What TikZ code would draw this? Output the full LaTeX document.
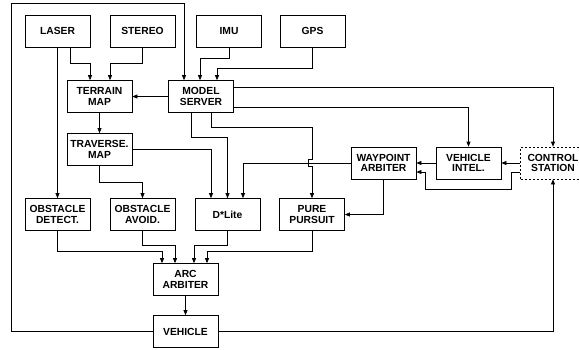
\documentclass[tikz,border=0pt]{standalone}
\usepackage{fontspec}
\setmainfont{Liberation Sans}
\usetikzlibrary{arrows.meta}

\begin{document}
\begin{tikzpicture}[
  x=1pt, y=-1pt,
  box/.style={rectangle, draw=black, line width=0.7pt, minimum width=65pt, minimum height=32pt,
    inner sep=1pt, align=center, font=\bfseries\fontsize{10.3}{10.5}\selectfont},
  remote/.style={box, dash pattern=on 2pt off 2pt},
  arr/.style={line width=0.7pt, draw=black, -{Triangle[length=5pt,width=4pt]}}
]
  \useasboundingbox (0,0) rectangle (579,349);

  % Sensores
  \node[box] (laser) at (57.5,31) {LASER};
  \node[box] (stereo) at (142.5,31) {STEREO};
  \node[box] (imu) at (229,31) {IMU};
  \node[box] (gps) at (312.5,31) {GPS};

  % Modelos y mapas
  \node[box] (terrain) at (99.5,96.5) {TERRAIN\\MAP};
  \node[box] (model) at (201,96.5) {MODEL\\SERVER};
  \node[box] (traverse) at (99.5,149.5) {TRAVERSE.\\MAP};
  \node[box] (waypoint) at (383.5,163) {WAYPOINT\\ARBITER};
  \node[box] (vintel) at (468.5,163) {VEHICLE\\INTEL.};
  \node[remote] (control) at (553,163) {CONTROL\\STATION};

  % Comportamientos
  \node[box] (obsdet) at (57.5,214.5) {OBSTACLE\\DETECT.};
  \node[box] (obsav) at (142.5,214.5) {OBSTACLE\\AVOID.};
  \node[box] (dlite) at (227.5,214.5) {D*Lite};
  \node[box] (pure) at (312,214.5) {PURE\\PURSUIT};
  \node[box] (arc) at (185.5,279.5) {ARC\\ARBITER};
  \node[box] (vehicle) at (185.5,331.5) {VEHICLE};

  % Sensores -> mapas
  \draw[arr] (laser.south) -- (obsdet.north);
  \draw[arr] ([xshift=12.5pt]laser.south) -- ++(0,16) -| ([xshift=-9.5pt]terrain.north);
  \draw[arr] (stereo.south) -- ++(0,16) -| ([xshift=10.5pt]terrain.north);
  \draw[arr] (imu.south) -- ++(0,11) -| ([xshift=-1pt]model.north);
  \draw[arr] (gps.south) -- ++(0,21) -| ([xshift=16pt]model.north);

  % Model server
  \draw[arr] (model.west) -- (terrain.east);
  \draw[arr] ([yshift=9.5pt]model.east) -| (control.north);
  \draw[arr] ([yshift=-10.5pt]model.east) -| (vintel.north);
  \draw[arr] ([xshift=-10pt]model.south) -- ++(0,24.5) -| (dlite.north);
  \draw[arr] ([xshift=10pt]model.south) -- ++(0,14.5) -| ([yshift=39pt]pure.north)
    -- ++(-4,0) -- ++(0,7) -- ++(4,0) -- (pure.north);

  % Mapas
  \draw[arr] (terrain.south) -- (traverse.north);
  \draw[arr] (traverse.east) -| ([xshift=-16.5pt]dlite.north);
  \draw[arr] (traverse.south) -- ++(0,16.5) -| (obsav.north);

  % Waypoints
  \draw[arr] (waypoint.west) -| ([xshift=15.5pt]dlite.north);
  \draw[arr] (waypoint.south) |- (pure.east);
  \draw[arr] (vintel.west) -- (waypoint.east);
  \draw[arr] (control.west) -- (vintel.east);
  \draw[arr] ([yshift=-9pt]control.west) -- ++(-8.5,0) -- ++(0,17) -- ++(-86,0) -- ++(0,-17)
    -- ([yshift=-9pt]waypoint.east);

  % Arbitro de arcos
  \draw[arr] (obsdet.south) -- ++(0,20.5) -| ([xshift=-23.5pt]arc.north);
  \draw[arr] (obsav.south) -- ++(0,14.5) -| ([xshift=-10.5pt]arc.north);
  \draw[arr] (dlite.south) -- ++(0,14.5) -| ([xshift=8.5pt]arc.north);
  \draw[arr] (pure.south) -- ++(0,20.5) -| ([xshift=21.5pt]arc.north);
  \draw[arr] (arc.south) -- (vehicle.north);

  % Realimentacion del vehiculo
  \draw[arr] (vehicle.west) -| (11,3) -| ([xshift=-17pt]model.north);
  \draw[arr] (vehicle.east) -| (control.south);
\end{tikzpicture}
\end{document}
